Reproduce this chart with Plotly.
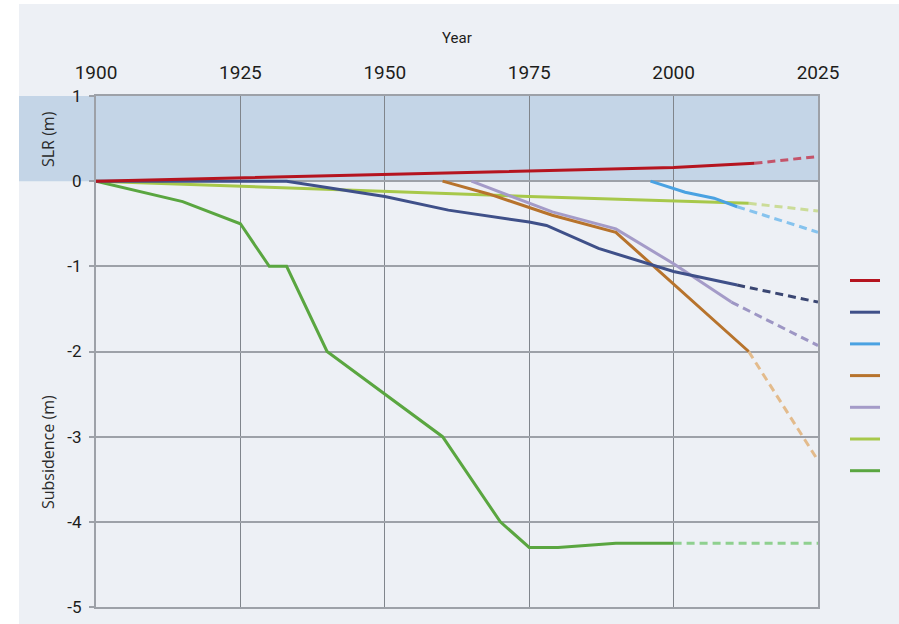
import plotly.graph_objects as go

# ---- data ----
red_years = [1900, 1925, 1950, 1975, 2000, 2014]
red_vals = [0, 0.04, 0.08, 0.12, 0.16, 0.21]
red_proj_years = [2014, 2025]
red_proj_vals = [0.21, 0.29]

navy_years = [1900, 1933, 1950, 1961, 1975, 1978, 1987, 2000, 2011]
navy_vals = [0, 0.0, -0.18, -0.34, -0.48, -0.52, -0.79, -1.06, -1.22]
navy_proj_years = [2011, 2025]
navy_proj_vals = [-1.22, -1.42]

sky_years = [1996, 2002, 2007, 2011]
sky_vals = [0, -0.13, -0.2, -0.3]
sky_proj_years = [2011, 2025]
sky_proj_vals = [-0.3, -0.6]

orange_years = [1960, 1968, 1979, 1990, 2013]
orange_vals = [0, -0.15, -0.4, -0.6, -2.0]
orange_proj_years = [2013, 2025]
orange_proj_vals = [-2.0, -3.28]

purple_years = [1965, 1972, 1979, 1990, 2000, 2010]
purple_vals = [0, -0.18, -0.36, -0.56, -0.97, -1.42]
purple_proj_years = [2010, 2025]
purple_proj_vals = [-1.42, -1.93]

lime_years = [1900, 1925, 1950, 1975, 2013]
lime_vals = [0, -0.06, -0.12, -0.18, -0.26]
lime_proj_years = [2013, 2025]
lime_proj_vals = [-0.26, -0.35]

green_years = [1900, 1915, 1925, 1930, 1933, 1940, 1960, 1970, 1975, 1980, 1990, 2000]
green_vals = [0, -0.24, -0.5, -1.0, -1.0, -2.0, -3.0, -4.0, -4.3, -4.3, -4.25, -4.25]
green_proj_years = [2000, 2025]
green_proj_vals = [-4.25, -4.25]

x_ticks = [1900, 1925, 1950, 1975, 2000, 2025]
y_ticks = [-5, -4, -3, -2, -1, 0, 1]

series = [
    # (years, vals, proj_years, proj_vals, color, proj_color, rank)
    (green_years, green_vals, green_proj_years, green_proj_vals, "#5aa640", "#8fd08f", 7),
    (lime_years, lime_vals, lime_proj_years, lime_proj_vals, "#a7c84a", "#cbdc98", 6),
    (purple_years, purple_vals, purple_proj_years, purple_proj_vals, "#a49bc8", "#9d96c4", 5),
    (orange_years, orange_vals, orange_proj_years, orange_proj_vals, "#b7732c", "#e3bb8c", 4),
    (navy_years, navy_vals, navy_proj_years, navy_proj_vals, "#3f5089", "#3a4672", 2),
    (sky_years, sky_vals, sky_proj_years, sky_proj_vals, "#4aa2e2", "#86c3ee", 3),
    (red_years, red_vals, red_proj_years, red_proj_vals, "#b5141f", "#c4546a", 1),
]

BG = "#edf0f5"
TICK_FONT = "Roboto, DejaVu Sans, sans-serif"
TITLE_FONT = "Open Sans, Noto Sans, sans-serif"

fig = go.Figure()
for ys, vs, pys, pvs, col, pcol, rank in series:
    fig.add_trace(go.Scatter(
        x=pys, y=pvs, mode="lines", showlegend=False, hoverinfo="skip",
        line=dict(color=pcol, width=3, dash="8px,5px"),
    ))
for ys, vs, pys, pvs, col, pcol, rank in series:
    fig.add_trace(go.Scatter(
        x=ys, y=vs, mode="lines", name=" ", legendrank=rank,
        legendgroup=str(rank),
        line=dict(color=col, width=3),
    ))

L, R, T, B = 96, 81, 96, 17
W, H = 899, 624
pw, ph = W - L - R, H - T - B

def px_x(p):
    return (p - L) / pw

def px_y(p):
    return (H - B - p) / ph

# SLR band extends left into margin
fig.add_shape(type="rect", xref="paper", yref="y", x0=px_x(19), x1=1, y0=0, y1=1,
              fillcolor="#c4d5e7", line=dict(width=0), layer="below")
# white strips at left / top edge
fig.add_shape(type="rect", xref="paper", yref="paper", x0=px_x(0), x1=px_x(19),
              y0=px_y(H), y1=px_y(0), fillcolor="white", line=dict(width=0), layer="below")
fig.add_shape(type="rect", xref="paper", yref="paper", x0=px_x(0), x1=px_x(W),
              y0=px_y(4), y1=px_y(0), fillcolor="white", line=dict(width=0), layer="below")

fig.add_annotation(text="Year", xref="paper", yref="paper", x=0.5, y=px_y(38),
                   showarrow=False, font=dict(family=TICK_FONT, size=15, color="#1d1d1b"),
                   xanchor="center", yanchor="middle")
fig.add_annotation(text="SLR (m)", xref="paper", yref="paper", x=px_x(48), y=px_y(139),
                   showarrow=False, textangle=-90,
                   font=dict(family=TITLE_FONT, size=16, color="#2a2a2a"),
                   xanchor="center", yanchor="middle")
fig.add_annotation(text="Subsidence (m)", xref="paper", yref="paper", x=px_x(48), y=px_y(452),
                   showarrow=False, textangle=-90,
                   font=dict(family=TITLE_FONT, size=16, color="#2a2a2a"),
                   xanchor="center", yanchor="middle")

fig.update_layout(
    width=W, height=H,
    margin=dict(l=L, r=R, t=T, b=B, autoexpand=False),
    paper_bgcolor=BG, plot_bgcolor=BG,
    showlegend=True,
    legend=dict(x=px_x(845), y=px_y(266), xanchor="left", yanchor="top",
                bgcolor="rgba(0,0,0,0)", font=dict(size=10),
                tracegroupgap=12.7, itemwidth=30),
    xaxis=dict(range=[1900, 2025], side="top", tickvals=x_ticks,
               ticktext=[str(t) for t in x_ticks],
               showgrid=True, gridcolor="#80858c", gridwidth=1,
               showline=True, linecolor="#9da1a8", linewidth=2, mirror=True,
               zeroline=False, ticks="", ticklabelstandoff=7,
               tickfont=dict(family=TICK_FONT, size=19, color="#1d1d1b")),
    yaxis=dict(range=[-5, 1], tickvals=y_ticks,
               ticktext=[str(t) for t in y_ticks],
               showgrid=True, gridcolor="#9da1a8", gridwidth=2,
               showline=True, linecolor="#9da1a8", linewidth=2, mirror=True,
               zeroline=False, ticks="outside", ticklen=5, tickcolor="#9da1a8",
               tickwidth=2, ticklabelstandoff=4,
               tickfont=dict(family=TICK_FONT, size=17, color="#1d1d1b")),
)

fig.write_html(
    "out.html",
    config={"displayModeBar": False},
    post_script=(
        "document.documentElement.style.overflow='hidden';"
        "document.documentElement.style.height='624px';"
        "document.body.style.margin='0';"
        "document.body.style.height='624px';"
        "document.body.style.overflow='hidden';"
    ),
)
